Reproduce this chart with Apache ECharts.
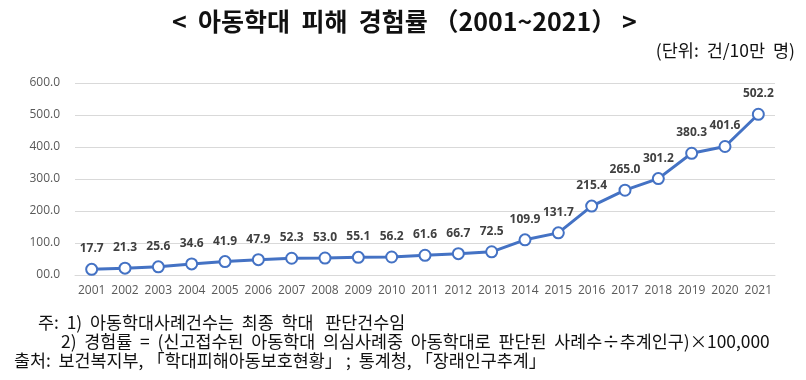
<!DOCTYPE html>
<html><head><meta charset="utf-8">
<script src="https://cdn.jsdelivr.net/npm/echarts@6/dist/echarts.min.js"></script>
<style>html,body{margin:0;padding:0;background:#fff}#c{width:806px;height:380px}</style>
</head><body><div id="c"></div>
<script>
const years = ['2001','2002','2003','2004','2005','2006','2007','2008','2009','2010','2011','2012','2013','2014','2015','2016','2017','2018','2019','2020','2021'];
const rates = [17.7,21.3,25.6,34.6,41.9,47.9,52.3,53.0,55.1,56.2,61.6,66.7,72.5,109.9,131.7,215.4,265.0,301.2,380.3,401.6,502.2];
const titleText = '<  아동학대  피해  경험률 （2001~2021） >';
const unitText = '(단위:  건/10만  명)';
const notes = [
  '주:  1)  아동학대사례건수는  최종  학대   판단건수임',
  '2)  경험률  =  (신고접수된  아동학대  의심사례중  아동학대로  판단된  사례수÷추계인구)×100,000',
  '출처:  보건복지부, 「학대피해아동보호현황」 ;  통계청, 「장래인구추계」'
];
const KF = '"Noto Sans CJK KR", "Noto Sans", sans-serif';
const chart = echarts.init(document.getElementById('c'), null, {renderer:'canvas'});
chart.setOption({
  animation:false,
  backgroundColor:'#fff',
  graphic:[
    {type:'text', left:172, top:9, style:{text:titleText, font:'bold 25px '+KF, fill:'#111'}},
    {type:'text', right:11, top:42, style:{text:unitText, font:'17.5px '+KF, fill:'#111'}},
    {type:'text', left:38, top:314, style:{text:notes[0], font:'17.4px '+KF, fill:'#111'}},
    {type:'text', left:61, top:333, style:{text:notes[1], font:'17.4px '+KF, fill:'#111'}},
    {type:'text', left:14, top:352, style:{text:notes[2], font:'17.4px '+KF, fill:'#111'}}
  ],
  grid:{left:75, right:31, top:83, bottom:105},
  xAxis:{type:'category', data:years, boundaryGap:true,
    axisLine:{show:true, lineStyle:{color:'#d9d9d9'}}, axisTick:{show:false},
    axisLabel:{color:'#595959', fontSize:12, fontFamily:'"Open Sans", sans-serif', margin:10, interval:0}},
  yAxis:{type:'value', min:0, max:600, interval:100,
    axisLine:{show:false}, axisTick:{show:false},
    splitLine:{lineStyle:{color:'#d9d9d9'}},
    axisLabel:{color:'#595959', fontSize:12, fontFamily:'"Open Sans", sans-serif', margin:15,
      formatter:v=> v===0 ? '00.0' : v.toFixed(1)}},
  series:[{type:'line', data:rates, symbol:'circle', symbolSize:11,
    lineStyle:{color:'#4472C4', width:3},
    itemStyle:{color:'#fff', borderColor:'#4472C4', borderWidth:2},
    label:{show:true, position:'top', distance:8, color:'#404040', fontWeight:'bold', fontSize:12,
      fontFamily:'"Open Sans", sans-serif', formatter:p=>p.value.toFixed(1)}}]
});
</script></body></html>
